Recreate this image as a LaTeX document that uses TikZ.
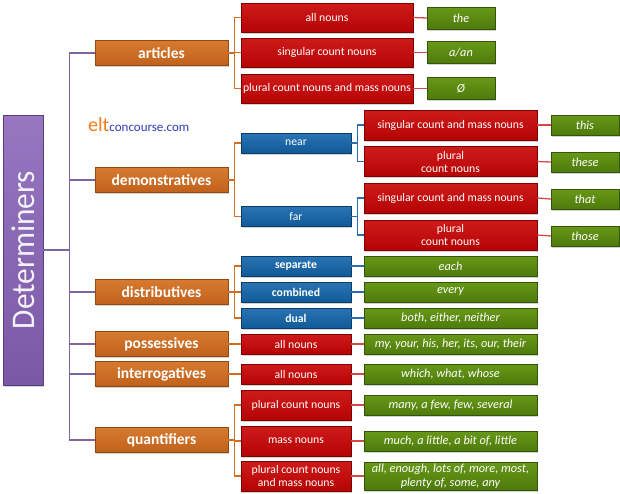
\documentclass[tikz,border=0pt]{standalone}
\usepackage{fontspec}
\setmainfont{Carlito}
\usetikzlibrary{shadows,calc}
\definecolor{orng}{HTML}{C0621C}
\definecolor{orngL}{HTML}{D77A30}
\definecolor{orngD}{HTML}{8F4A14}
\definecolor{redb}{HTML}{B50404}
\definecolor{redL}{HTML}{CF1A1A}
\definecolor{redD}{HTML}{7E0000}
\definecolor{blub}{HTML}{105A98}
\definecolor{bluL}{HTML}{2A74B4}
\definecolor{bluD}{HTML}{0A3D6A}
\definecolor{grnb}{HTML}{4E7A0C}
\definecolor{grnL}{HTML}{679818}
\definecolor{grnD}{HTML}{35540A}
\definecolor{purb}{HTML}{7B58A6}
\definecolor{purL}{HTML}{9677C0}
\definecolor{purD}{HTML}{5A3F80}
\definecolor{purline}{HTML}{8064A2}
\definecolor{orline}{HTML}{D06E22}
\definecolor{redline}{HTML}{D64848}
\definecolor{bluline}{HTML}{2D6CB0}
\definecolor{eltor}{HTML}{F47A20}
\definecolor{eltbl}{HTML}{2F3DB8}
\begin{document}
\begin{tikzpicture}[x=1pt,y=-1pt,
  box/.style={line width=0.4pt, inner sep=1pt, align=center, text=white,
    drop shadow={opacity=0.35, shadow xshift=1.2pt, shadow yshift=-1.5pt}},
  obox/.style={box, top color=orngL, bottom color=orng, draw=orngD,
    font=\fontsize{15.5}{17}\selectfont\bfseries, minimum width=133pt, minimum height=25pt},
  rbox/.style={box, top color=redL, bottom color=redb, draw=redD,
    font=\fontsize{11.7}{13}\selectfont, minimum height=#1},
  rbox/.default=20pt,
  bbox/.style={box, top color=bluL, bottom color=blub, draw=bluD,
    font=\fontsize{11.7}{13}\selectfont, minimum width=110pt, minimum height=20pt},
  gbox/.style={box, top color=grnL, bottom color=grnb, draw=grnD,
    font=\fontsize{12.3}{14}\selectfont\itshape, minimum height=#1},
  gbox/.default=20pt,
  wide/.style={minimum width=172pt},
  mid/.style={minimum width=110pt},
  small/.style={minimum width=68pt},
  pline/.style={draw=purline, line width=1.4pt},
  oline/.style={draw=orline, line width=1.3pt},
  rline/.style={draw=redline, line width=1.3pt},
  bline/.style={draw=bluline, line width=1.3pt}
]
\useasboundingbox (0,0) rectangle (620,493);

% root
\node[box, rotate=90, top color=purL, bottom color=purb,
  draw=purD, minimum width=270pt, minimum height=40pt,
  text=white!90!purL, font=\fontsize{33}{36}\selectfont] (det) at (23,250) {\scalebox{0.95}[1]{Determiners}};

% logo
\node[anchor=base west, inner sep=0pt] (logo) at (88,131)
  {\fontsize{20}{20}\selectfont\color{eltor}elt\fontsize{13}{13}\selectfont\color{eltbl}concourse.com};

% level 1
\node[obox] (art) at (161.5,53) {articles};
\node[obox] (dem) at (161.5,180) {demonstratives};
\node[obox] (dis) at (161.5,292) {distributives};
\node[obox] (pos) at (161.5,344) {possessives};
\node[obox] (int) at (161.5,374) {interrogatives};
\node[obox] (qua) at (161.5,440) {quantifiers};

% articles
\node[rbox=29pt, wide] (a1) at (327,17.5) {all nouns};
\node[rbox=29pt, wide] (a2) at (327,52.5) {singular count nouns};
\node[rbox=29pt, wide] (a3) at (327,88.5) {plural count nouns and mass nouns};
\node[gbox=22pt, small] (ga1) at (461,18) {the};
\node[gbox=22pt, small] (ga2) at (461,52.5) {a/an};
\node[gbox=22pt, small] (ga3) at (461,88.5) {Ø};

% demonstratives
\node[bbox] (near) at (296,143) {near};
\node[bbox] (far) at (296,216.5) {far};
\node[rbox=30pt, minimum width=173pt] (n1) at (450.5,125) {singular count and mass nouns};
\node[rbox=30pt, minimum width=173pt] (n2) at (450.5,161.5) {plural\\count nouns};
\node[rbox=30pt, minimum width=173pt] (f1) at (450.5,198) {singular count and mass nouns};
\node[rbox=30pt, minimum width=173pt] (f2) at (450.5,235) {plural\\count nouns};
\node[gbox, small] (gn1) at (585,125) {this};
\node[gbox, small] (gn2) at (585,162) {these};
\node[gbox, small] (gf1) at (585,199) {that};
\node[gbox, small] (gf2) at (585,236) {those};

% distributives
\node[bbox, font=\fontsize{11.7}{13}\selectfont\bfseries] (s1) at (296,266) {separate};
\node[bbox, font=\fontsize{11.7}{13}\selectfont\bfseries] (s2) at (296,292) {combined};
\node[bbox, font=\fontsize{11.7}{13}\selectfont\bfseries] (s3) at (296,318) {dual};
\node[gbox, minimum width=173pt] (gs1) at (450.5,266) {each};
\node[gbox, minimum width=173pt] (gs2) at (450.5,292) {every};
\node[gbox, minimum width=173pt] (gs3) at (450.5,318) {both, either, neither};

% possessives / interrogatives
\node[rbox, mid] (p1) at (296,344) {all nouns};
\node[gbox, minimum width=173pt] (gp1) at (450.5,344) {my, your, his, her, its, our, their};
\node[rbox, mid] (i1) at (296,374) {all nouns};
\node[gbox, minimum width=173pt] (gi1) at (450.5,374) {which, what, whose};

% quantifiers
\node[rbox=30pt, mid] (q1) at (296,405) {plural count nouns};
\node[rbox=30pt, mid] (q2) at (296,441) {mass nouns};
\node[rbox=30pt, mid] (q3) at (296,476) {plural count nouns\\and mass nouns};
\node[gbox, minimum width=173pt] (gq1) at (450.5,405) {many, a few, few, several};
\node[gbox, minimum width=173pt] (gq2) at (450.5,441) {much, a little, a bit of, little};
\node[gbox=28pt, minimum width=173pt, font=\fontsize{12.3}{13.5}\selectfont\itshape] (gq3) at (450.5,476) {all, enough, lots of, more, most,\\plenty of, some, any};

% connectors: root
\foreach \t in {art,dem,dis,pos,int,qua}
  \draw[pline] (det.south) -- ++(26,0) |- (\t.west);

% level 1 -> level 2
\foreach \c in {a1,a2,a3} \draw[oline] (art.east) -- ++(6.5,0) |- (\c.west);
\foreach \c in {near,far} \draw[oline] (dem.east) -- ++(6.5,0) |- (\c.west);
\foreach \c in {s1,s2,s3} \draw[oline] (dis.east) -- ++(6.5,0) |- (\c.west);
\draw[oline] (pos.east) -- (p1.west);
\draw[oline] (int.east) -- (i1.west);
\foreach \c in {q1,q2,q3} \draw[oline] (qua.east) -- ++(6.5,0) |- (\c.west);

% near/far -> level 3
\foreach \c in {n1,n2} \draw[bline] (near.east) -- ++(6.5,0) |- (\c.west);
\foreach \c in {f1,f2} \draw[bline] (far.east) -- ++(6.5,0) |- (\c.west);

% red/blue -> green
\draw[rline] (a1.east) -- (ga1.west);
\draw[rline] (a2.east) -- (ga2.west);
\draw[rline] (a3.east) -- (ga3.west);
\draw[rline] (n1.east) -- (gn1.west);
\draw[rline] (n2.east) -- (gn2.west);
\draw[rline] (f1.east) -- (gf1.west);
\draw[rline] (f2.east) -- (gf2.west);
\draw[bline] (s1.east) -- (gs1.west);
\draw[bline] (s2.east) -- (gs2.west);
\draw[bline] (s3.east) -- (gs3.west);
\draw[rline] (p1.east) -- (gp1.west);
\draw[rline] (i1.east) -- (gi1.west);
\draw[rline] (q1.east) -- (gq1.west);
\draw[rline] (q2.east) -- (gq2.west);
\draw[rline] (q3.east) -- (gq3.west);
\end{tikzpicture}
\end{document}
